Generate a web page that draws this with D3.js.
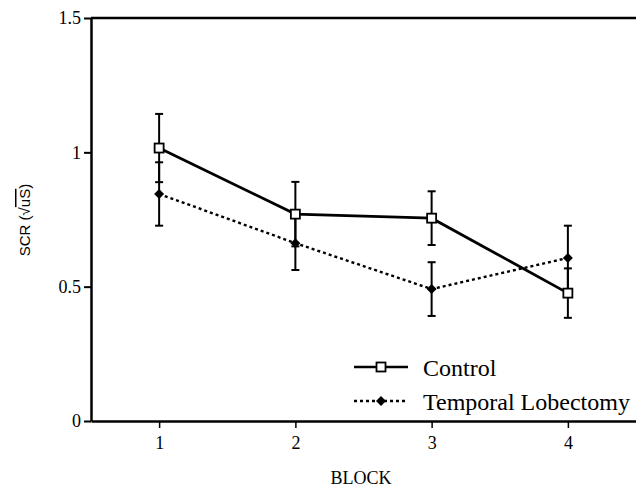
<!DOCTYPE html>
<html>
<head>
<meta charset="utf-8">
<script src="https://cdn.jsdelivr.net/npm/d3@7"></script>
<style>
  body { margin: 0; background: #fff; }
  svg { display: block; }
</style>
</head>
<body>
<svg id="chart"></svg>
<script>
// values
const blocks = [1, 2, 3, 4];
const control = [1.016, 0.770, 0.755, 0.476];
const controlErr = [0.127, 0.120, 0.100, 0.092];
const temporal = [0.845, 0.662, 0.491, 0.607];
const temporalErr = [0.118, 0.100, 0.100, 0.120];
const yTicks = [0, 0.5, 1, 1.5];
const yTickLabels = ["0", "0.5", "1", "1.5"];
const seriesNames = ["Control", "Temporal Lobectomy"];

const width = 636, height = 489;
const serif = "'Liberation Serif', 'Times New Roman', serif";

const svg = d3.select("#chart")
    .attr("width", width)
    .attr("height", height)
    .attr("font-family", serif);

const x = d3.scaleLinear()
    .domain([0.5, 4.5])
    .range([91, 636]);

const y = d3.scaleLinear()
    .domain([0, 1.5])
    .range([421, 18]);

// top frame line
svg.append("line")
    .attr("x1", x(0.5)).attr("x2", x(4.5))
    .attr("y1", y(1.5)).attr("y2", y(1.5))
    .attr("stroke", "#000").attr("stroke-width", 2.5);

// y axis
const yAxis = svg.append("g")
    .attr("transform", "translate(" + x(0.5) + ",0)")
    .call(d3.axisLeft(y)
        .tickValues(yTicks)
        .tickFormat((d, i) => yTickLabels[i])
        .tickSize(7)
        .tickPadding(3)
        .tickSizeOuter(0));
yAxis.select(".domain").attr("stroke-width", 2.5);
yAxis.selectAll(".tick line").attr("stroke-width", 2);
yAxis.selectAll("text")
    .attr("font-family", serif)
    .attr("font-size", 18)
    .attr("fill", "#000");

// x axis
const xAxis = svg.append("g")
    .attr("transform", "translate(0," + y(0) + ")")
    .call(d3.axisBottom(x)
        .tickValues(blocks)
        .tickFormat(d3.format("d"))
        .tickSize(7)
        .tickPadding(8)
        .tickSizeOuter(0));
xAxis.select(".domain").attr("stroke-width", 2.5);
xAxis.selectAll(".tick line").attr("stroke-width", 1.5);
xAxis.selectAll("text")
    .attr("font-family", serif)
    .attr("font-size", 18)
    .attr("fill", "#000");

// axis titles
svg.append("text")
    .attr("x", 361)
    .attr("y", 484)
    .attr("text-anchor", "middle")
    .attr("font-size", 18)
    .text("BLOCK");

const ylab = svg.append("text")
    .attr("transform", "translate(30,220) rotate(-90)")
    .attr("text-anchor", "middle")
    .attr("font-family", "'Liberation Sans', Arial, sans-serif")
    .attr("font-size", 15)
    .attr("fill", "#000");
ylab.append("tspan").text("SCR (\u221A");
ylab.append("tspan").attr("text-decoration", "overline").text("uS");
ylab.append("tspan").text(")");

const series = [
    { name: seriesNames[0], values: control, err: controlErr },
    { name: seriesNames[1], values: temporal, err: temporalErr }
];

// error bars
series.forEach(s => {
    const g = svg.append("g").attr("stroke", "#000").attr("stroke-width", 2);
    blocks.forEach((b, i) => {
        const lo = s.values[i] - s.err[i], hi = s.values[i] + s.err[i];
        g.append("line")
            .attr("x1", x(b)).attr("x2", x(b))
            .attr("y1", y(lo)).attr("y2", y(hi));
        [lo, hi].forEach(v => {
            g.append("line")
                .attr("x1", x(b) - 4).attr("x2", x(b) + 4)
                .attr("y1", y(v)).attr("y2", y(v));
        });
    });
});

const line = d3.line()
    .x((d, i) => x(blocks[i]))
    .y(d => y(d));

svg.append("path")
    .datum(temporal)
    .attr("fill", "none")
    .attr("stroke", "#000")
    .attr("stroke-width", 2.4)
    .attr("stroke-dasharray", "3,3")
    .attr("d", line);

svg.append("path")
    .datum(control)
    .attr("fill", "none")
    .attr("stroke", "#000")
    .attr("stroke-width", 2.8)
    .attr("d", line);

function drawSquare(g, cx, cy) {
    g.append("rect")
        .attr("x", cx - 4.5).attr("y", cy - 4.5)
        .attr("width", 9).attr("height", 9)
        .attr("fill", "#fff")
        .attr("stroke", "#000")
        .attr("stroke-width", 1.8);
}
function drawDiamond(g, cx, cy) {
    g.append("path")
        .attr("d", d3.symbol().type(d3.symbolSquare).size(50)())
        .attr("transform", "translate(" + cx + "," + cy + ") rotate(45)")
        .attr("fill", "#000");
}

temporal.forEach((v, i) => drawDiamond(svg, x(blocks[i]), y(v)));
control.forEach((v, i) => drawSquare(svg, x(blocks[i]), y(v)));

// legend
const legend = svg.append("g").attr("font-size", 24);
legend.append("line")
    .attr("x1", 354).attr("x2", 408).attr("y1", 367).attr("y2", 367)
    .attr("stroke", "#000").attr("stroke-width", 2.5);
drawSquare(legend, 381, 367);
legend.append("text").attr("x", 423).attr("y", 376).text(seriesNames[0]);

legend.append("line")
    .attr("x1", 354).attr("x2", 408).attr("y1", 401).attr("y2", 401)
    .attr("stroke", "#000").attr("stroke-width", 2.4)
    .attr("stroke-dasharray", "3,3");
drawDiamond(legend, 381, 401);
legend.append("text").attr("x", 423).attr("y", 410).text(seriesNames[1]);
</script>
</body>
</html>
